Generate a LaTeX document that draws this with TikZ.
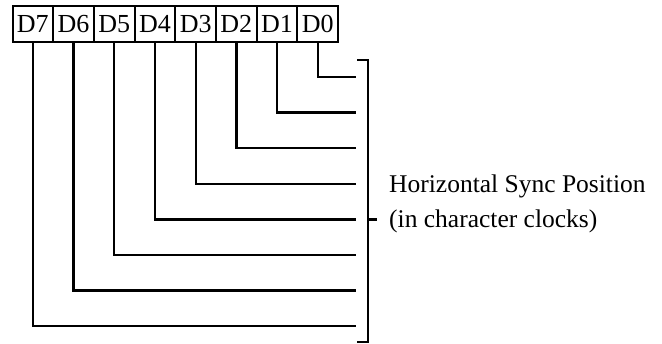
\documentclass[tikz,border=0pt]{standalone}
\usepackage{fontspec}
\setmainfont{Liberation Serif}
\begin{document}
\begin{tikzpicture}[x=1pt,y=-1pt,
  bitbox/.style={draw, line width=2pt, minimum width=40.7pt, minimum height=36pt, inner sep=0pt, font=\fontsize{26}{30}\selectfont},
  wire/.style={line width=2.3pt},
  brk/.style={line width=2.3pt}]
\useasboundingbox (0,0) rectangle (662,344);
% bit boxes
\foreach \n [count=\i from 0] in {7,6,5,4,3,2,1,0} {
  \node[bitbox] (d\n) at ({32.85+40.7*\i},24) {D\n};
}
% line ends
\foreach \n [count=\i from 0] in {0,1,2,3,4,5,6,7} {
  \coordinate (e\n) at (356,{77+35.6*\i});
}
\foreach \n in {0,...,7} {
  \draw[wire] (d\n.south) |- (e\n);
}
% bracket
\coordinate (bt) at (368,60);
\coordinate (bb) at (368,342);
\coordinate (bm) at (368,{77+35.6*4});
\draw[brk] (357,60) -- (bt) -- (bb) -- (357,342);
\draw[brk] (bm) -- ++(9,0);
\node[anchor=base west, align=left, inner sep=0pt, font=\fontsize{25.5}{35.2}\selectfont] (lbl) at (389,228) {Horizontal Sync Position\\(in character clocks)};
\end{tikzpicture}
\end{document}
